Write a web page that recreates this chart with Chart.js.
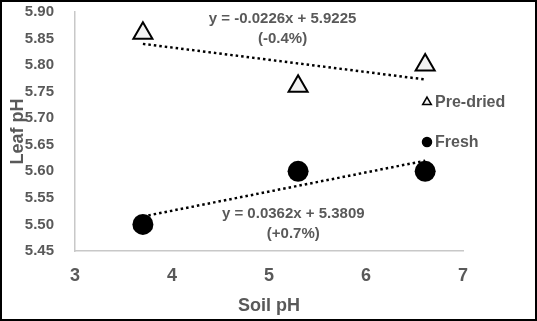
<!DOCTYPE html>
<html>
<head>
<meta charset="utf-8">
<script src="https://cdn.jsdelivr.net/npm/chart.js@4.4.1/dist/chart.umd.min.js"></script>
<style>
  html, body { margin: 0; padding: 0; background: #fff; }
</style>
</head>
<body>
<canvas id="chart-container" width="537" height="321"></canvas>
<script>
// soil pH of the three soils (x)
const soil_ph = [3.70, 5.30, 6.61];
// leaf pH for each treatment
const leaf_ph_predried = [5.86, 5.76, 5.80];
const leaf_ph_fresh = [5.50, 5.60, 5.60];
// dotted trendline ends
const trend_x = [3.70, 6.61];
const trend_predried = [5.84, 5.773];
const trend_fresh = [5.515, 5.620];
// trendline labels
const eq_predried = ["y = -0.0226x + 5.9225", "(-0.4%)"];
const eq_fresh = ["y = 0.0362x + 5.3809", "(+0.7%)"];
// axis ticks
const x_ticks = [3, 4, 5, 6, 7];
const y_ticks = [5.45, 5.50, 5.55, 5.60, 5.65, 5.70, 5.75, 5.80, 5.85, 5.90];

const txt_grey = '#595959';
const font_fam = '"Liberation Sans", Arial, sans-serif';

function pts(xs, ys) {
    return xs.map((x, i) => ({x: x, y: ys[i]}));
}

// equation text next to each trendline, anchored in data units
const eq_labels = {
    id: 'eq_labels',
    afterDatasetsDraw(chart) {
        const ctx = chart.ctx;
        const xs = chart.scales.x, ys = chart.scales.y;
        const put = (lines, x, y) => {
            let px = xs.getPixelForValue(x);
            let py = ys.getPixelForValue(y);
            ctx.save();
            ctx.font = 'bold 15px ' + font_fam;
            ctx.fillStyle = txt_grey;
            ctx.textAlign = 'center';
            ctx.textBaseline = 'middle';
            lines.forEach((l, i) => ctx.fillText(l, px, py + i * 20));
            ctx.restore();
        };
        put(eq_predried, 5.14, 5.887);
        put(eq_fresh, 5.25, 5.52);
    }
};

// legend sitting to the right of the plot
const side_legend = {
    id: 'side_legend',
    afterDraw(chart) {
        const ctx = chart.ctx;
        const area = chart.chartArea;
        const items = [
            {label: chart.data.datasets[0].label, style: 'triangle', y: 102},
            {label: chart.data.datasets[1].label, style: 'circle', y: 142}
        ];
        for (let it of items) {
            let mx = area.right - 36;
            ctx.save();
            ctx.fillStyle = it.style == 'circle' ? '#000' : '#f2f2f2';
            ctx.strokeStyle = '#000';
            ctx.lineWidth = 1.5;
            Chart.helpers.drawPoint(ctx, {pointStyle: it.style, radius: it.style == 'circle' ? 4.5 : 5, borderWidth: 1.5}, mx, it.y);
            ctx.font = 'bold 16px ' + font_fam;
            ctx.fillStyle = txt_grey;
            ctx.textAlign = 'left';
            ctx.textBaseline = 'middle';
            ctx.fillText(it.label, mx + 8, it.y + 1);
            ctx.restore();
        }
    }
};

// black frame round the whole picture
const frame = {
    id: 'frame',
    afterDraw(chart) {
        const ctx = chart.ctx;
        ctx.save();
        ctx.strokeStyle = '#000';
        ctx.lineWidth = 2;
        ctx.strokeRect(1, 1, chart.width - 2, chart.height - 2);
        ctx.restore();
    }
};

function build_chart() {
    const canv = document.querySelector('#chart-container');
    let leaf_chart = new Chart(canv, {
        type: 'scatter',
        data: {
            datasets: [
                {
                    label: 'Pre-dried',
                    data: pts(soil_ph, leaf_ph_predried),
                    pointStyle: 'triangle',
                    pointRadius: 11,
                    pointBackgroundColor: '#f2f2f2',
                    pointBorderColor: '#000',
                    pointBorderWidth: 2
                },
                {
                    label: 'Fresh',
                    data: pts(soil_ph, leaf_ph_fresh),
                    pointStyle: 'circle',
                    pointRadius: 10.5,
                    pointBackgroundColor: '#000',
                    pointBorderColor: '#000',
                    pointBorderWidth: 0
                },
                {
                    label: 'Pre-dried trend',
                    type: 'line',
                    data: pts(trend_x, trend_predried),
                    borderColor: '#000',
                    borderWidth: 2.5,
                    borderDash: [2.5, 3],
                    pointRadius: 0,
                    fill: false
                },
                {
                    label: 'Fresh trend',
                    type: 'line',
                    data: pts(trend_x, trend_fresh),
                    borderColor: '#000',
                    borderWidth: 2.5,
                    borderDash: [2.5, 3],
                    pointRadius: 0,
                    fill: false
                }
            ]
        },
        options: {
            responsive: false,
            animation: false,
            layout: { autoPadding: false, padding: { left: 0, right: 74, top: 12, bottom: 0 } },
            plugins: {
                legend: { display: false },
                tooltip: { enabled: false }
            },
            scales: {
                x: {
                    type: 'linear',
                    min: 3,
                    max: 7,
                    afterBuildTicks: (s) => { s.ticks = x_ticks.map((v) => ({value: v})); },
                    afterFit: (s) => { s.height = 70; s.paddingLeft = 0; s.paddingRight = 0; },
                    grid: { display: false },
                    border: { display: true, color: '#c8c8c8', width: 1.5 },
                    ticks: {
                        color: txt_grey,
                        padding: 6,
                        font: { family: font_fam, size: 18, weight: 'bold' }
                    },
                    title: {
                        display: true,
                        text: 'Soil pH',
                        color: txt_grey,
                        padding: { top: 4, bottom: 4 },
                        font: { family: font_fam, size: 18, weight: 'bold' }
                    }
                },
                y: {
                    type: 'linear',
                    min: 5.45,
                    max: 5.90,
                    afterBuildTicks: (s) => { s.ticks = y_ticks.map((v) => ({value: v})); },
                    afterFit: (s) => { s.width = 75; s.paddingTop = 0; s.paddingBottom = 0; },
                    grid: { display: false },
                    border: { display: true, color: '#c8c8c8', width: 1.5 },
                    ticks: {
                        color: txt_grey,
                        padding: 13,
                        callback: (v) => Number(v).toFixed(2),
                        font: { family: font_fam, size: 15, weight: 'bold' }
                    },
                    title: {
                        display: true,
                        text: 'Leaf pH',
                        color: txt_grey,
                        padding: { top: 7, bottom: 0 },
                        font: { family: font_fam, size: 18, weight: 'bold' }
                    }
                }
            }
        },
        plugins: [eq_labels, side_legend, frame]
    });
    return leaf_chart;
}

build_chart();
</script>
</body>
</html>
